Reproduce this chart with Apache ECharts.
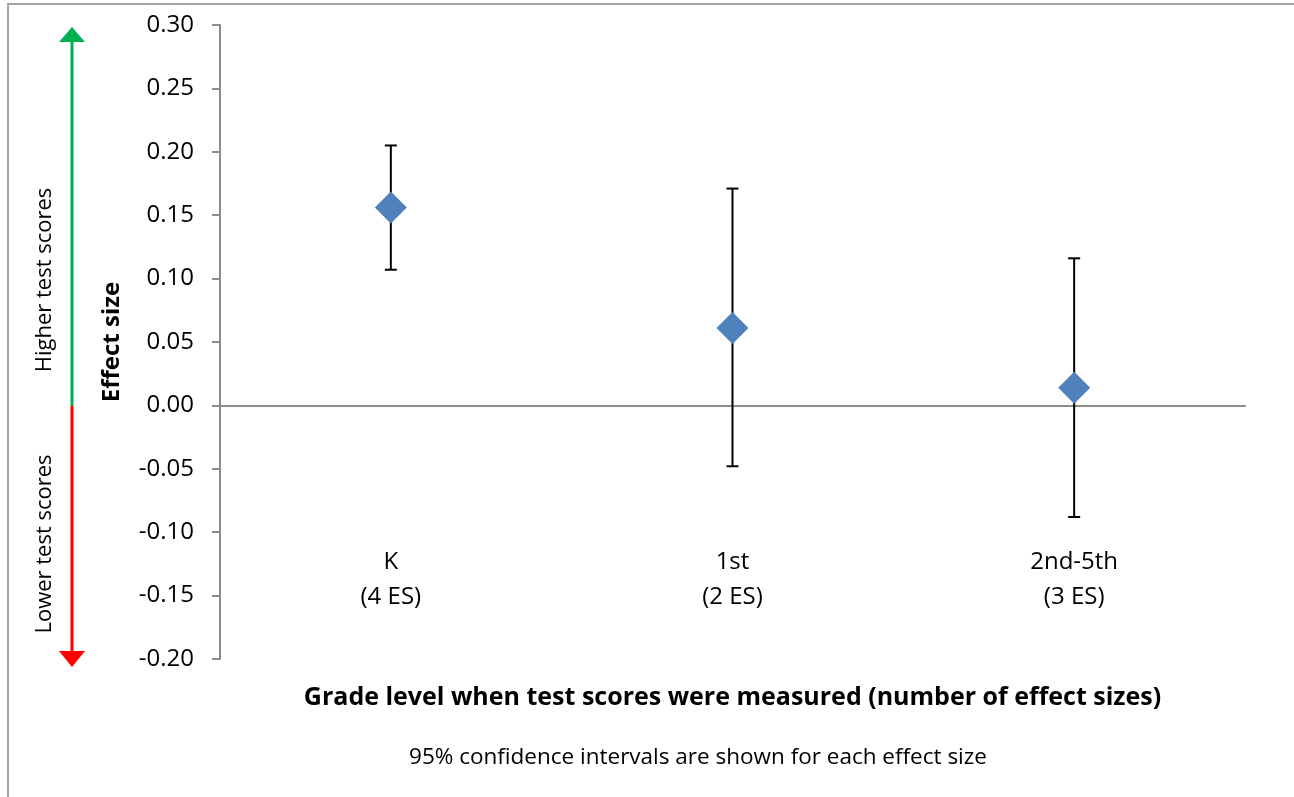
<!DOCTYPE html>
<html>
<head>
<meta charset="utf-8">
<script src="https://cdn.jsdelivr.net/npm/echarts@6/dist/echarts.min.js"></script>
<style>
  html, body { margin: 0; padding: 0; background: #fff; }
  #chart { width: 1294px; height: 797px; }
</style>
</head>
<body>
<div id="chart"></div>
<script>
// data
var grades = ['K\n(4 ES)', '1st\n(2 ES)', '2nd-5th\n(3 ES)'];
var effectSizes = [0.156, 0.061, 0.014];
var ciLow = [0.107, -0.048, -0.088];
var ciHigh = [0.205, 0.171, 0.116];

var FONT = '"Open Sans", "Noto Sans", sans-serif';

var errorData = grades.map(function (g, i) {
    return [i, ciLow[i], ciHigh[i]];
});

var chart = echarts.init(document.getElementById('chart'));

var option = {
    backgroundColor: '#fff',
    animation: false,
    textStyle: { fontFamily: FONT },
    grid: { left: 220, top: 25, right: 49, bottom: 138, containLabel: false, outerBoundsMode: 'none' },
    xAxis: [
        {
            // line through zero
            type: 'category',
            data: grades,
            boundaryGap: true,
            axisLine: { onZero: true, lineStyle: { color: '#8c8c8c', width: 2 } },
            axisTick: { show: false },
            axisLabel: { show: false },
            splitLine: { show: false }
        },
        {
            // category labels low in the plot + axis title
            type: 'category',
            data: grades,
            boundaryGap: true,
            position: 'bottom',
            offset: -114,
            name: 'Grade level when test scores were measured (number of effect sizes)',
            nameLocation: 'middle',
            nameGap: 140,
            nameTextStyle: { fontFamily: FONT, fontSize: 25, fontWeight: 'bold', color: '#000' },
            axisLine: { show: false, onZero: false },
            axisTick: { show: false },
            axisLabel: { margin: 0, fontFamily: FONT, fontSize: 24, color: '#000', lineHeight: 35 },
            splitLine: { show: false }
        }
    ],
    yAxis: {
        type: 'value',
        min: -0.2,
        max: 0.3,
        interval: 0.05,
        name: 'Effect size',
        nameLocation: 'middle',
        nameGap: 96,
        nameRotate: 90,
        nameTextStyle: { fontFamily: FONT, fontSize: 24, fontWeight: 'bold', color: '#000' },
        axisLine: { show: true, onZero: false, lineStyle: { color: '#8c8c8c', width: 2 } },
        axisTick: { show: true, inside: false, length: 8, lineStyle: { color: '#8c8c8c', width: 2 } },
        axisLabel: {
            margin: 26,
            fontFamily: FONT,
            fontSize: 24,
            color: '#000',
            formatter: function (v) { return v.toFixed(2); }
        },
        splitLine: { show: false }
    },
    series: [
        {
            type: 'custom',
            data: errorData,
            z: 2,
            renderItem: function (params, api) {
                var x = api.value(0);
                var lo = api.coord([x, api.value(1)]);
                var hi = api.coord([x, api.value(2)]);
                var cap = 6;
                var st = { stroke: '#000', lineWidth: 2 };
                return {
                    type: 'group',
                    children: [
                        { type: 'line', shape: { x1: hi[0], y1: hi[1], x2: lo[0], y2: lo[1] }, style: st },
                        { type: 'line', shape: { x1: hi[0] - cap, y1: hi[1], x2: hi[0] + cap, y2: hi[1] }, style: st },
                        { type: 'line', shape: { x1: lo[0] - cap, y1: lo[1], x2: lo[0] + cap, y2: lo[1] }, style: st }
                    ]
                };
            }
        },
        {
            type: 'scatter',
            data: effectSizes,
            symbol: 'diamond',
            symbolSize: [32, 32],
            z: 3,
            itemStyle: { color: '#4f81bd', opacity: 1 }
        }
    ],
    graphic: [
        // chart border
        { type: 'rect', shape: { x: 8, y: 4, width: 1300, height: 800 },
          style: { fill: 'none', stroke: '#a6a6a6', lineWidth: 2 }, z: 0 },
        // green arrow (higher)
        { type: 'line', shape: { x1: 72, y1: 406, x2: 72, y2: 40 },
          style: { stroke: '#00b050', lineWidth: 3 } },
        { type: 'polygon', shape: { points: [[72, 27], [59, 42], [85, 42]] },
          style: { fill: '#00b050' } },
        // red arrow (lower)
        { type: 'line', shape: { x1: 72, y1: 406, x2: 72, y2: 652 },
          style: { stroke: '#ff0000', lineWidth: 3 } },
        { type: 'polygon', shape: { points: [[72, 667], [59, 651], [85, 651]] },
          style: { fill: '#ff0000' } },
        { type: 'text', x: 45, y: 280, rotation: Math.PI / 2,
          style: { text: 'Higher test scores', font: '22px ' + FONT, fill: '#000',
                   textAlign: 'center', textVerticalAlign: 'middle' } },
        { type: 'text', x: 45, y: 544, rotation: Math.PI / 2,
          style: { text: 'Lower test scores', font: '22px ' + FONT, fill: '#000',
                   textAlign: 'center', textVerticalAlign: 'middle' } },
        { type: 'text', x: 698, y: 758,
          style: { text: '95% confidence intervals are shown for each effect size',
                   font: '22.5px ' + FONT, fill: '#000',
                   textAlign: 'center', textVerticalAlign: 'middle' } }
    ]
};

chart.setOption(option);
</script>
</body>
</html>
